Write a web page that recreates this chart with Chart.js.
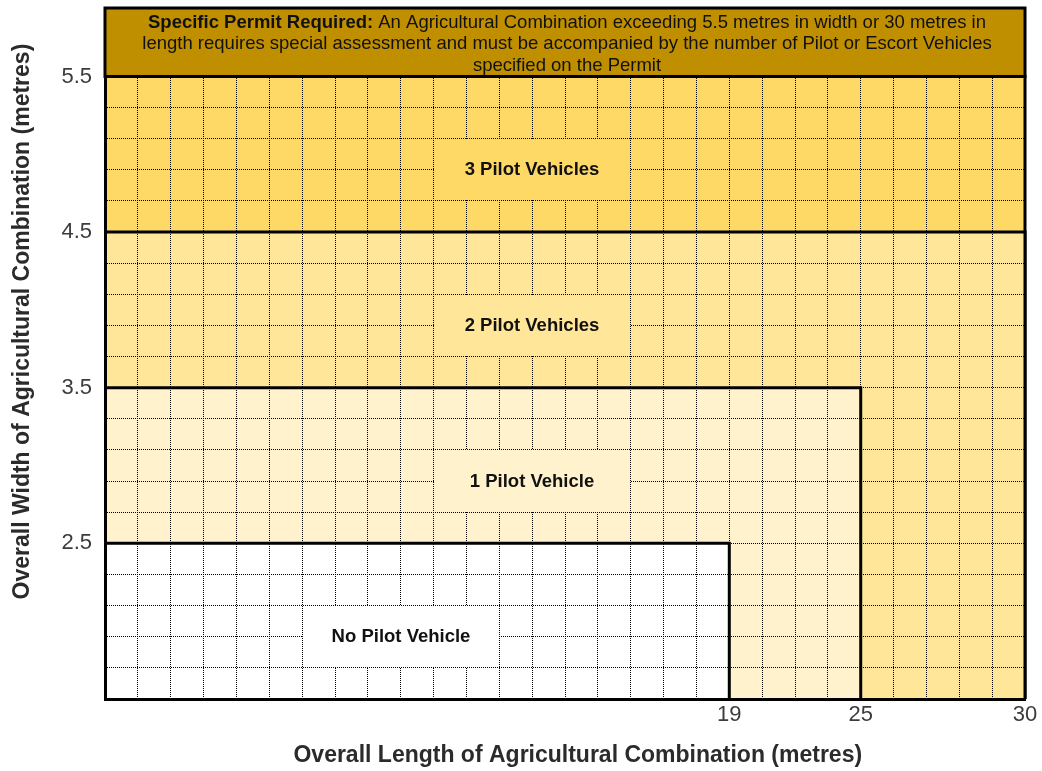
<!DOCTYPE html>
<html>
<head>
<meta charset="utf-8">
<title>Pilot vehicles for agricultural combinations</title>
<script src="https://cdn.jsdelivr.net/npm/chart.js@4.4.1/dist/chart.umd.min.js"></script>
<style>
  html, body { margin: 0; padding: 0; background: #fff; }
  #wrap { width: 1042px; height: 771px; position: relative; }
</style>
</head>
<body>
<div id="wrap"><canvas id="chart"></canvas></div>
<script>
// length axis is schematic: 0-19 m one column per metre, 19-25 m squeezed into 4 columns
const lengthMarks = [0, 19, 25, 30];
const lengthCols = [0, 19, 23, 28];

const widthTicks = [2.5, 3.5, 4.5, 5.5];
const widthMin = 1.5;
const widthMax = 5.94;
const widthStep = 0.2;

// zones, back to front
const zoneNames = ['3 Pilot Vehicles', '2 Pilot Vehicles', '1 Pilot Vehicle', 'No Pilot Vehicle'];
const zoneWidths = [5.5, 4.5, 3.5, 2.5];   // upper width limit (m)
const zoneLengths = [30, 30, 25, 19];      // upper length limit (m)
const zoneColors = ['#FFD966', '#FFE699', '#FFF2CC', '#FFFFFF'];

// panel behind each zone name: [from, to] in metres
const labelLengths = [[10, 16], [10, 16], [10, 16], [6, 12]];
const labelWidths = [[4.7, 5.1], [3.7, 4.1], [2.7, 3.1], [1.7, 2.1]];

const permitWidth = 5.5;
const permitLength = 30;
const permitLines = [
    ['Specific Permit Required:', ' An Agricultural Combination exceeding 5.5 metres in width or 30 metres in'],
    ['', 'length requires special assessment and must be accompanied by the number of Pilot or Escort Vehicles'],
    ['', 'specified on the Permit']
];

const FONT = '"Liberation Sans", Arial, sans-serif';

function toCol(m) {
    for (let i = 1; i < lengthMarks.length; i++) {
        if (m <= lengthMarks[i]) {
            const t = (m - lengthMarks[i - 1]) / (lengthMarks[i] - lengthMarks[i - 1]);
            return lengthCols[i - 1] + t * (lengthCols[i] - lengthCols[i - 1]);
        }
    }
    return lengthCols[lengthCols.length - 1];
}

const datasets = zoneNames.map((name, i) => ({
    label: name,
    data: [
        { x: toCol(0), y: zoneWidths[i] },
        { x: toCol(zoneLengths[i]), y: zoneWidths[i] },
        { x: toCol(zoneLengths[i]), y: widthMin }
    ],
    fill: 'start',
    backgroundColor: zoneColors[i],
    borderColor: '#000',
    borderWidth: 3,
    borderJoinStyle: 'miter',
    pointRadius: 0,
    tension: 0,
    clip: false,
    order: zoneNames.length - i
}));

// grid line row/column a 1px Chart.js grid line lands on
const gridPx = p => Math.round(p - 0.5);

const overlay = {
    id: 'overlay',
    afterDraw(chart) {
        const { ctx, scales: { x, y } } = chart;
        ctx.save();

        // zone names sit on a plain panel (grid hidden)
        zoneNames.forEach((name, i) => {
            const c0 = gridPx(x.getPixelForValue(toCol(labelLengths[i][0])));
            const c1 = gridPx(x.getPixelForValue(toCol(labelLengths[i][1])));
            const r0 = gridPx(y.getPixelForValue(labelWidths[i][1]));
            const r1 = gridPx(y.getPixelForValue(labelWidths[i][0]));
            ctx.fillStyle = zoneColors[i];
            ctx.fillRect(c0 + 1, r0 + 1, c1 - c0 - 1, r1 - r0 - 1);
            ctx.fillStyle = '#111';
            ctx.font = 'bold 18.5px ' + FONT;
            ctx.textAlign = 'center';
            ctx.textBaseline = 'middle';
            ctx.fillText(name, (c0 + c1) / 2 + 0.5, (r0 + r1) / 2 + 1);
        });

        // permit band above 5.5 m
        const left = x.getPixelForValue(toCol(0));
        const right = x.getPixelForValue(toCol(permitLength));
        const top = y.getPixelForValue(widthMax);
        const bottom = y.getPixelForValue(permitWidth);
        ctx.fillStyle = '#BF8F00';
        ctx.fillRect(left, top, right - left, bottom - top);
        ctx.lineWidth = 3;
        ctx.strokeStyle = '#000';
        ctx.strokeRect(left, top, right - left, bottom - top);

        ctx.fillStyle = '#111';
        ctx.textAlign = 'left';
        ctx.textBaseline = 'middle';
        const mid = (top + bottom) / 2;
        permitLines.forEach(([boldPart, plainPart], i) => {
            ctx.font = 'bold 18.5px ' + FONT;
            const wb = ctx.measureText(boldPart).width;
            ctx.font = '18.5px ' + FONT;
            const wp = ctx.measureText(plainPart).width;
            let tx = (left + right) / 2 + 2 - (wb + wp) / 2;
            const ty = mid + (i - 1) * 21.5 + 2;
            ctx.font = 'bold 18.5px ' + FONT;
            ctx.fillText(boldPart, tx, ty);
            ctx.font = '18.5px ' + FONT;
            ctx.fillText(plainPart, tx + wb, ty);
        });
        ctx.restore();
    }
};

new Chart(document.getElementById('chart'), {
    type: 'line',
    data: { datasets },
    options: {
        responsive: true,
        maintainAspectRatio: false,
        animation: false,
        events: [],
        layout: { padding: { left: 0, top: 8, right: 17, bottom: 2 } },
        plugins: {
            legend: { display: false },
            tooltip: { enabled: false }
        },
        scales: {
            x: {
                type: 'linear',
                min: lengthCols[0],
                max: lengthCols[lengthCols.length - 1],
                afterBuildTicks: (scale) => {
                    const ticks = [];
                    for (let c = lengthCols[0]; c <= lengthCols[lengthCols.length - 1]; c++) ticks.push({ value: c });
                    scale.ticks = ticks;
                },
                afterFit: (scale) => {
                    scale.height = 70;
                    scale.paddingLeft = 0;
                    scale.paddingRight = 0;
                },
                ticks: {
                    autoSkip: false,
                    maxRotation: 0,
                    minRotation: 0,
                    padding: 3,
                    color: '#3c3c3c',
                    font: { family: FONT, size: 22 },
                    callback: (value) => {
                        const i = lengthCols.indexOf(value);
                        return i > 0 ? String(lengthMarks[i]) : '';
                    }
                },
                grid: { color: '#000', lineWidth: 1, drawTicks: false, z: 1 },
                border: { display: true, color: '#000', width: 3, dash: [1, 1], z: 2 },
                title: {
                    display: true,
                    // leading spaces nudge the centred title right, as in the original
                    text: '    Overall Length of Agricultural Combination (metres)',
                    color: '#2b2b2b',
                    font: { family: FONT, size: 23, weight: 'bold' },
                    padding: { top: 0, bottom: 0 }
                }
            },
            y: {
                type: 'linear',
                min: widthMin,
                max: widthMax,
                afterBuildTicks: (scale) => {
                    const ticks = [];
                    for (let k = 0; ; k++) {
                        const v = Math.round((widthMin + k * widthStep) * 10) / 10;
                        if (v > permitWidth) break;
                        ticks.push({ value: v });
                    }
                    scale.ticks = ticks;
                },
                afterFit: (scale) => {
                    scale.width = 105;
                    scale.paddingTop = 0;
                    scale.paddingBottom = 0;
                },
                ticks: {
                    autoSkip: false,
                    padding: 13,
                    color: '#3c3c3c',
                    font: { family: FONT, size: 22 },
                    callback: (value) => widthTicks.some(t => Math.abs(t - value) < 1e-6) ? value.toFixed(1) : ''
                },
                grid: { color: '#000', lineWidth: 1, drawTicks: false, z: 1 },
                border: { display: true, color: '#000', width: 3, dash: [1, 1], z: 2 },
                title: {
                    display: true,
                    // leading spaces push the text up the axis like the original
                    text: '          Overall Width of Agricultural Combination (metres)',
                    color: '#2b2b2b',
                    font: { family: FONT, size: 23, weight: 'bold' },
                    padding: { top: 9, bottom: 0 }
                }
            }
        }
    },
    plugins: [overlay]
});
</script>
</body>
</html>
